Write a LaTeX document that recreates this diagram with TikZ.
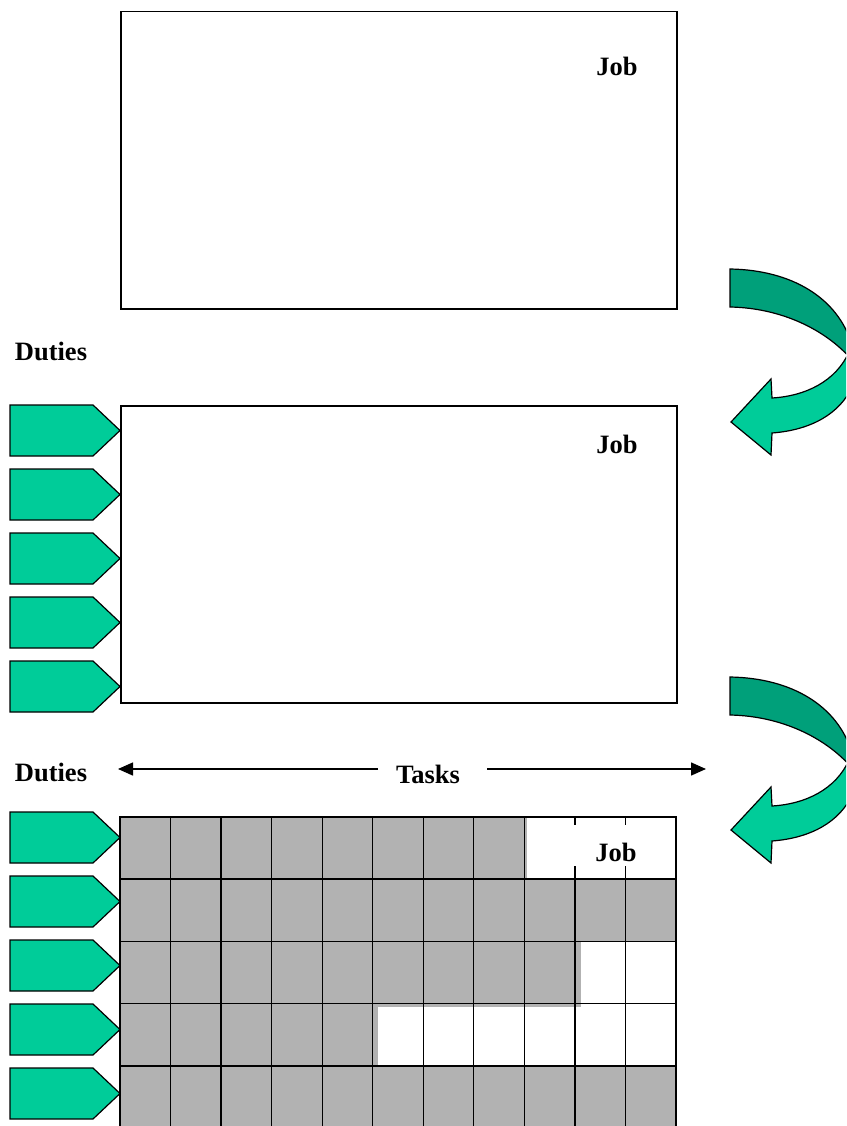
\documentclass[tikz,border=0pt]{standalone}
\usepackage{fontspec}
\setmainfont{Liberation Serif}
\usetikzlibrary{arrows.meta}
\definecolor{dutygreen}{HTML}{00CC99}
\definecolor{backgreen}{HTML}{00A07A}
\definecolor{cellgray}{HTML}{B2B2B2}
\tikzset{
  jobbox/.style={draw=black, line width=1.5pt},
  boldlbl/.style={font=\fontsize{26.5}{29}\selectfont\bfseries, inner sep=0pt, anchor=base},
  outline/.style={draw=black, line width=1.2pt, line join=miter},
  duty/.pic={
    \draw[outline, fill=dutygreen] (0,0) -- (83,0) -- (110,25.5) -- (83,51) -- (0,51) -- cycle;
  },
  uturn/.pic={
    % back face of the band, running right and down
    \draw[outline, fill=backgreen]
      (730,269) .. controls (792,270) and (838,298) .. (852,345)
      -- (852,360) .. controls (826,330) and (782,308) .. (730,307) -- cycle;
    % front face, coming back left into the arrow head
    \draw[outline, fill=dutygreen]
      (862,335) -- (849,352) .. controls (836,381) and (806,396) .. (772,398)
      -- (771,379) -- (731,422) -- (771,455) -- (772,433)
      .. controls (812,430) and (840,413) .. (852,387) -- (862,372) -- cycle;
  },
  tasksarrow/.style={line width=1.5pt, -{Triangle[length=15pt,width=13pt]}},
}
\begin{document}
\begin{tikzpicture}[x=1pt,y=-1pt]
\useasboundingbox (0,0) rectangle (846,1126);
\clip (0,0) rectangle (846,1126);

% ---- first job box ----
\node[jobbox, minimum width=556pt, minimum height=297pt, anchor=north west, inner sep=0pt] (box1) at (120,11) {};
\node[boldlbl] (job1) at (617,76) {Job};

% ---- second job box with duties ----
\node[boldlbl] (duties1) at (51,360) {Duties};
\node[jobbox, minimum width=556pt, minimum height=297pt, anchor=north west, inner sep=0pt] (box2) at (120,405) {};
\node[boldlbl] (job2) at (617,453) {Job};
\foreach \t in {405,469,533,597,661} {
  \pic at (10,\t) {duty};
}

% ---- task grid ----
\fill[cellgray] (120,817) rectangle (527,880);
\fill[cellgray] (120,879) rectangle (676,942);
\fill[cellgray] (120,942) rectangle (581,1006.5);
\fill[cellgray] (120,1004) rectangle (378,1066);
\fill[cellgray] (120,1066) rectangle (676,1128);
\foreach \k in {1,...,10} {
  \draw[line width=1.2pt] ({120+\k*556/11},817) -- ({120+\k*556/11},1128);
}
\foreach \r in {879.2,941.4,1003.6,1065.8} {
  \draw[line width=1.7pt] (120,\r) -- (676,\r);
}
\draw[line width=1.7pt] (120,817) rectangle (676,1128);
\fill[white] (528,825) rectangle (673,866);
\node[boldlbl] (job3) at (616,861) {Job};
\foreach \t in {812,876,940,1004,1068} {
  \pic at (10,\t) {duty};
}

% ---- duties / tasks header ----
\node[boldlbl] (duties2) at (51,781) {Duties};
\node[boldlbl] (tasks) at (428,783) {Tasks};
\coordinate (tl) at (118,769);
\coordinate (tr) at (706,769);
\coordinate (gl) at (378,769);
\coordinate (gr) at (487,769);
\draw[tasksarrow] (gl) -- (tl);
\draw[tasksarrow] (gr) -- (tr);

% ---- turning arrows on the right ----
\pic at (0,0) {uturn};
\pic at (0,408) {uturn};
\end{tikzpicture}
\end{document}
